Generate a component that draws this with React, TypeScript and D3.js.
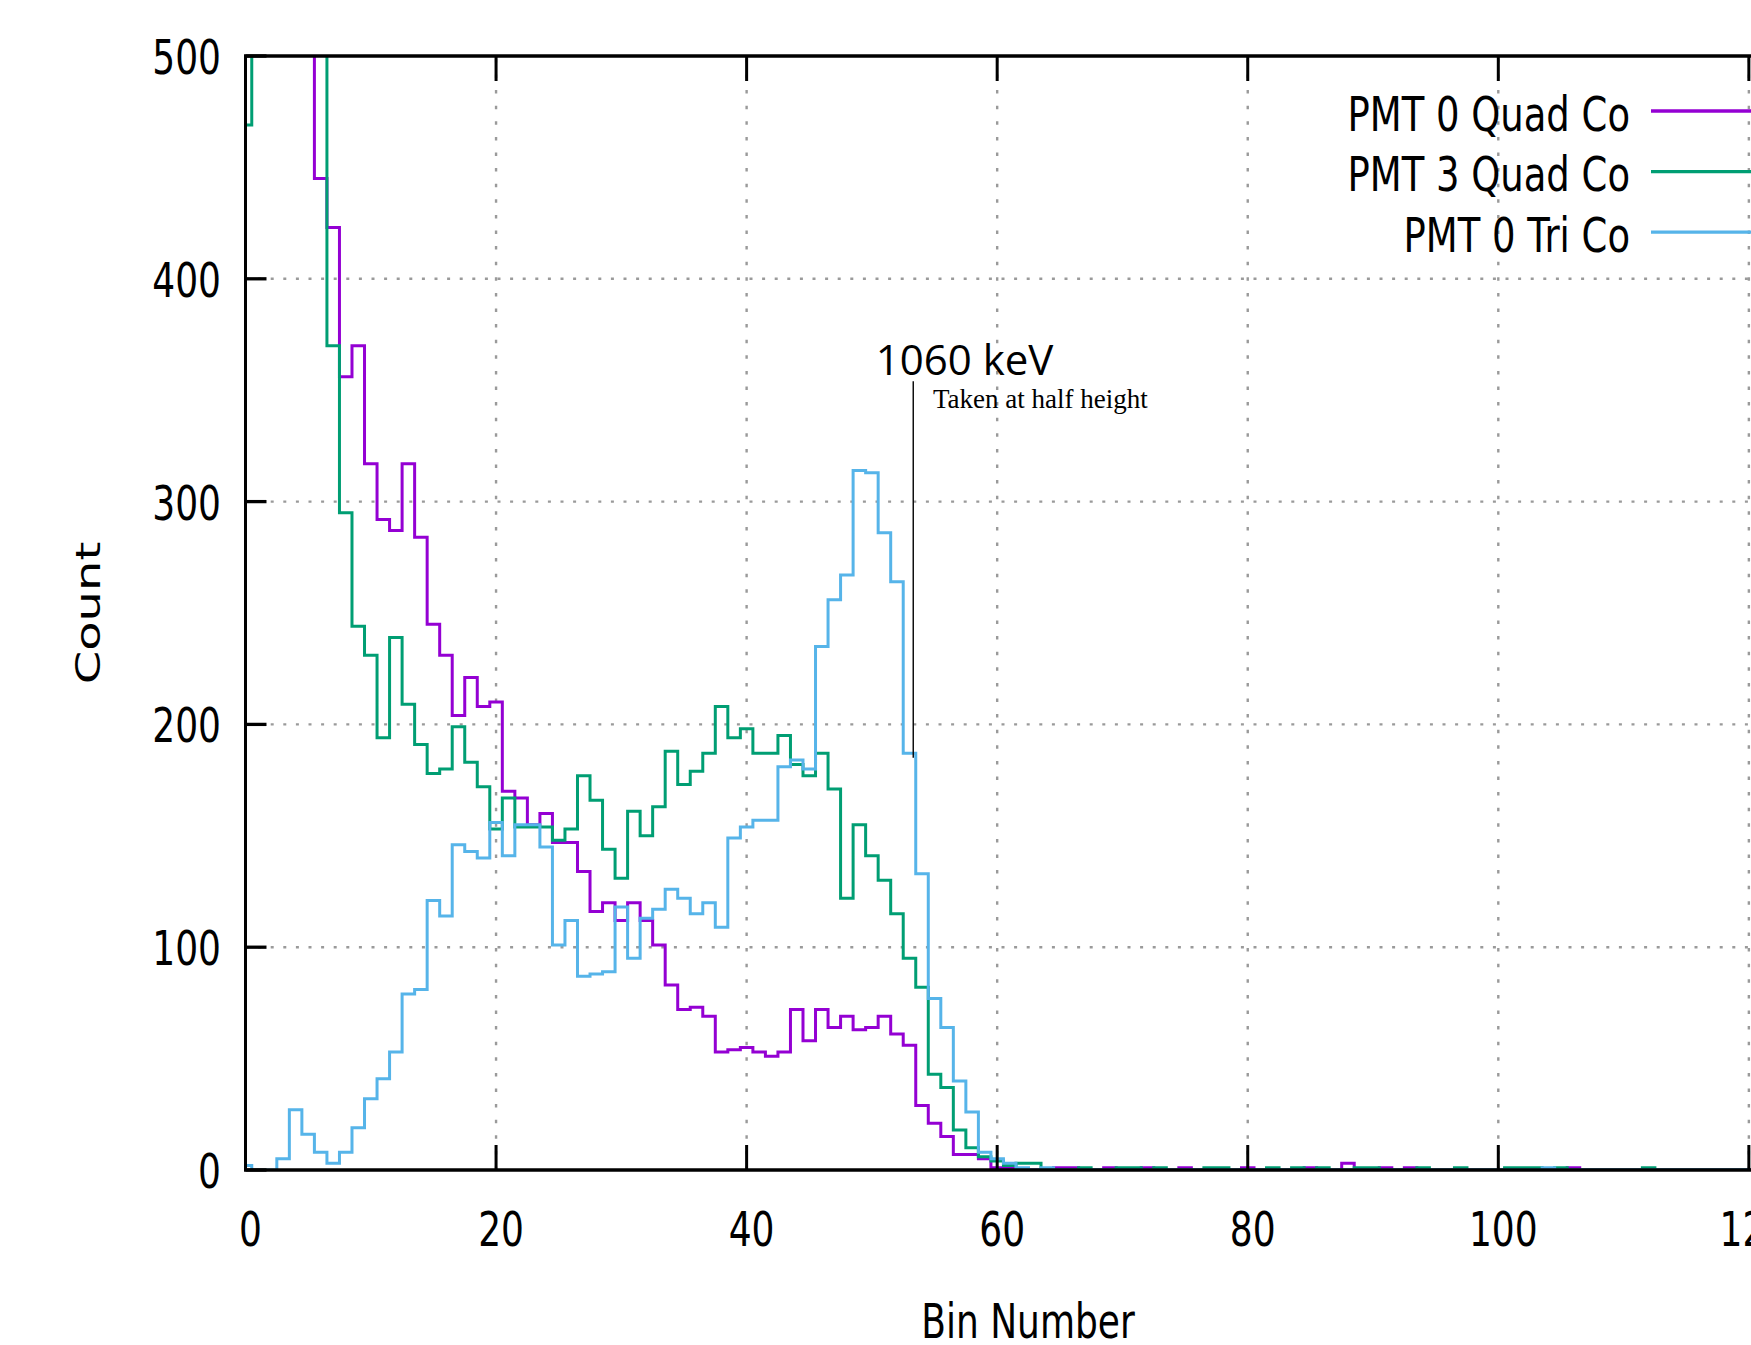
import React, { useEffect, useRef } from "react";
import * as d3 from "d3";

const seriesNames = ["PMT 0 Quad Co", "PMT 3 Quad Co", "PMT 0 Tri Co"];
const seriesColors = ["#9400d3", "#009e73", "#56b4e9"];

// counts per bin, starting at bin 0
const pmt0Quad = [
  1600, 1800, 1500, 1150, 850, 600, 445, 423, 356, 370, 317, 292, 287, 317, 284, 245, 231, 204, 221, 208,
  210, 170, 167, 155, 160, 147, 147, 134, 116, 120, 112, 120, 112, 101, 83, 72, 73, 69, 53, 54,
  55, 53, 51, 53, 72, 58, 72, 64, 69, 63, 64, 69, 61, 56, 29, 21, 15, 7, 7, 5,
  1, 1, 0, 0, 0, 1, 1, 0, 0, 1, 0, 0, 1, 0, 0, 1, 0, 0, 0, 0,
  1, 0, 0, 0, 0, 1, 0, 0, 3, 0, 0, 1, 0, 1, 0, 0, 0, 0, 0, 0,
  0, 0, 0, 0, 0, 0, 1, 0, 0, 0, 0, 0, 0, 0, 0, 0, 0, 0, 0, 0,
  0, 0, 0, 0, 0,
];

const pmt3Quad = [
  469, 1100, 1350, 1200, 950, 750, 560, 370, 295, 244, 231, 194, 239, 209, 191, 178, 180, 199, 183, 172,
  153, 167, 154, 154, 154, 148, 153, 177, 166, 144, 131, 161, 150, 163, 188, 173, 179, 187, 208, 194,
  198, 187, 187, 195, 182, 177, 187, 171, 122, 155, 141, 130, 115, 95, 82, 43, 37, 18, 10, 6,
  4, 2, 3, 3, 0, 0, 0, 1, 0, 0, 1, 1, 0, 1, 0, 0, 0, 1, 1, 0,
  0, 0, 1, 0, 1, 0, 1, 0, 0, 1, 1, 0, 0, 0, 1, 0, 0, 1, 0, 0,
  0, 1, 1, 1, 0, 1, 0, 0, 0, 0, 0, 0, 1, 0, 0, 0, 0, 0, 0, 0,
  0, 0, 0, 0, 0,
];

const pmt0Tri = [
  2, 0, 0, 5, 27, 16, 8, 3, 8, 19, 32, 41, 53, 79, 81, 121, 114, 146, 143, 140,
  156, 141, 155, 155, 145, 101, 112, 87, 88, 89, 118, 95, 113, 117, 126, 122, 115, 120, 109, 149,
  154, 157, 157, 181, 184, 180, 235, 256, 267, 314, 313, 286, 264, 187, 133, 77, 64, 40, 26, 8,
  5, 3, 1, 0, 1, 0, 0, 0, 0, 0, 0, 0, 0, 0, 0, 0, 0, 0, 0, 0,
  0, 0, 0, 0, 0, 0, 0, 0, 0, 0, 0, 0, 0, 0, 0, 0, 0, 0, 0, 0,
  0, 0, 0, 0, 1, 0, 0, 0, 0, 0, 0, 0, 0, 0, 0, 0, 0, 0, 0, 0,
  0, 0, 0, 0, 0,
];

const xTicks = [0, 20, 40, 60, 80, 100, 120];
const yTicks = [0, 100, 200, 300, 400, 500];
const gridX = [20, 40, 60, 80, 100, 120];
const gridY = [100, 200, 300, 400];

const xLabel = "Bin Number";
const yLabel = "Count";
const noteTitle = "1060 keV";
const noteText = "Taken at half height";

const gpFont = "'DejaVu Sans', sans-serif";
const squeeze = 0.75;

function App() {
  const ref = useRef<SVGSVGElement>(null);

  useEffect(() => {
    const svg = d3.select(ref.current);
    svg.selectAll("*").remove();

    const x = d3.scaleLinear().domain([0, 125]).range([245.5, 1811.5]);
    const y = d3.scaleLinear().domain([0, 500]).range([1170, 56]);

    const gpText = (sx: number, sy: number, str: string, anchor: string, sq = squeeze, rot = false) =>
      svg
        .append("text")
        .attr("transform", `translate(${sx},${sy}) scale(${sq},1)` + (rot ? " rotate(-90)" : ""))
        .attr("text-anchor", anchor)
        .attr("font-family", gpFont)
        .attr("font-size", 48)
        .attr("fill", "#000")
        .text(str);

    // grid
    const grid = svg.append("g").attr("stroke", "#9a9a9a").attr("fill", "none");
    gridY.forEach((t) => {
      grid.append("line")
        .attr("x1", x(0)).attr("x2", x(125))
        .attr("y1", y(t)).attr("y2", y(t))
        .attr("stroke-width", 2.4)
        .attr("stroke-dasharray", "3,9.6");
    });
    gridX.forEach((t) => {
      grid.append("line")
        .attr("x1", x(t)).attr("x2", x(t))
        .attr("y1", y(0)).attr("y2", y(500))
        .attr("stroke-width", 2.4)
        .attr("stroke-dasharray", "3.5,12.1");
    });

    svg.append("clipPath").attr("id", "plotclip")
      .append("rect")
      .attr("x", x(0)).attr("y", y(500))
      .attr("width", x(125) - x(0)).attr("height", y(0) - y(500));

    const stepLine = d3.line<[number, number]>()
      .x((d) => x(d[0]))
      .y((d) => y(d[1]))
      .curve(d3.curveStepAfter);

    [pmt0Quad, pmt3Quad, pmt0Tri].forEach((vals, i) => {
      const pts: [number, number][] = vals.map((v, b) => [b - 0.5, v] as [number, number]);
      pts.push([vals.length - 0.5, vals[vals.length - 1]]);
      svg.append("path")
        .attr("clip-path", "url(#plotclip)")
        .attr("d", stepLine(pts))
        .attr("fill", "none")
        .attr("stroke", seriesColors[i])
        .attr("stroke-width", 3)
        .attr("stroke-linejoin", "miter");
    });

    // border and ticks
    const border = svg.append("g").attr("stroke", "#000");
    border.append("line").attr("x1", x(0) - 1.5).attr("x2", x(125)).attr("y1", y(0)).attr("y2", y(0)).attr("stroke-width", 3.5);
    border.append("line").attr("x1", x(0) - 1.5).attr("x2", x(125)).attr("y1", y(500)).attr("y2", y(500)).attr("stroke-width", 3.5);
    border.append("line").attr("x1", x(0)).attr("x2", x(0)).attr("y1", y(0)).attr("y2", y(500)).attr("stroke-width", 3);

    xTicks.forEach((t) => {
      border.append("line").attr("x1", x(t)).attr("x2", x(t)).attr("y1", y(0)).attr("y2", y(0) - 25).attr("stroke-width", 3);
      border.append("line").attr("x1", x(t)).attr("x2", x(t)).attr("y1", y(500)).attr("y2", y(500) + 25).attr("stroke-width", 3);
      gpText(x(t) + 5, 1246, String(t), "middle");
    });
    yTicks.forEach((t) => {
      border.append("line").attr("x1", x(0)).attr("x2", x(0) + 21).attr("y1", y(t)).attr("y2", y(t)).attr("stroke-width", 3.3);
      gpText(221, y(t) + 18, String(t), "end");
    });

    gpText(1028, 1338, xLabel, "middle");
    gpText(100, 613, yLabel, "middle", 0.72, true);

    // key
    seriesNames.forEach((name, i) => {
      gpText(1630, 130.7 + i * 60.6, name, "end", 0.77);
      svg.append("line")
        .attr("x1", 1651).attr("x2", 1811)
        .attr("y1", 111 + i * 60.6).attr("y2", 111 + i * 60.6)
        .attr("stroke", seriesColors[i])
        .attr("stroke-width", 3.3);
    });

    // half height annotation
    svg.append("line")
      .attr("x1", x(53.3)).attr("x2", x(53.3))
      .attr("y1", y(354)).attr("y2", y(185))
      .attr("stroke", "#000")
      .attr("stroke-width", 1.4);
    svg.append("text")
      .attr("x", x(50.3)).attr("y", y(356.8))
      .attr("font-family", "'Open Sans', sans-serif")
      .attr("font-size", 42)
      .attr("fill", "#000")
      .text(noteTitle);
    svg.append("text")
      .attr("x", x(54.87)).attr("y", y(342))
      .attr("font-family", "'Liberation Serif', serif")
      .attr("font-size", 27)
      .attr("fill", "#000")
      .text(noteText);
  }, []);

  return (
    <svg
      ref={ref}
      width={1751}
      height={1345}
      style={{ position: "absolute", left: 0, top: 0, background: "#fff" }}
    />
  );
}

export default App;
